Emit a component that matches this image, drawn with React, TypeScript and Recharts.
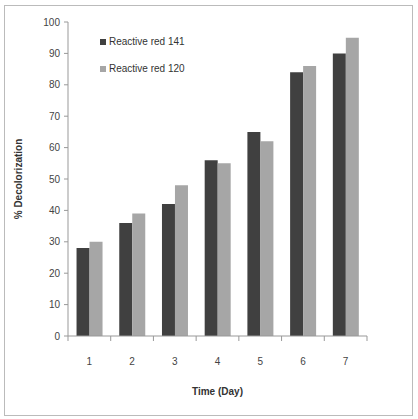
import { BarChart, Bar, XAxis, YAxis, Legend } from 'recharts';

const days = ['1', '2', '3', '4', '5', '6', '7'];
const red141 = [28, 36, 42, 56, 65, 84, 90];
const red120 = [30, 39, 48, 55, 62, 86, 95];
const seriesNames = ['Reactive red 141', 'Reactive red 120'];
const yTicks = [0, 10, 20, 30, 40, 50, 60, 70, 80, 90, 100];

const data = days.map((d, i) => ({ day: d, r141: red141[i], r120: red120[i] }));

const FONT = '"Liberation Sans", Arial, sans-serif';

// Excel style: tick marks sit between the categories
function DayTick(props: any) {
  const { x, y, payload, width, visibleTicksCount, index } = props;
  const step = width / visibleTicksCount;
  return (
    <g>
      <line x1={x - step / 2} x2={x - step / 2} y1={y} y2={y + 5} stroke="#999" />
      {index === visibleTicksCount - 1 && (
        <line x1={x + step / 2} x2={x + step / 2} y1={y} y2={y + 5} stroke="#999" />
      )}
      <text x={x} y={y + 29} textAnchor="middle" fontSize={10} fill="#444" fontFamily={FONT}>
        {payload.value}
      </text>
    </g>
  );
}

function LegendBox(props: any) {
  const items = [...(props.payload || [])].sort(
    (a: any, b: any) => seriesNames.indexOf(a.value) - seriesNames.indexOf(b.value)
  );
  return (
    <div style={{ fontFamily: FONT, fontSize: 10, color: '#333' }}>
      {items.map((p: any) => (
        <div key={p.value} style={{ display: 'flex', alignItems: 'center', height: 27 }}>
          <span style={{ width: 6, height: 6, background: p.color, marginRight: 3 }} />
          {p.value}
        </div>
      ))}
    </div>
  );
}

export default function App() {
  return (
    <div style={{ position: 'absolute', left: 4, top: 5, width: 407, height: 409, border: '1px solid #bbb', background: '#fff' }}>
      <BarChart
        width={407}
        height={409}
        data={data}
        margin={{ top: 16, right: 45, left: 0, bottom: 0 }}
        barCategoryGap="20%"
        barGap={0}
      >
        <XAxis
          dataKey="day"
          height={79}
          tickSize={0}
          tickMargin={0}
          tickLine={false}
          stroke="#999"
          tick={<DayTick />}
          interval={0}
          label={{ value: 'Time (Day)', position: 'insideBottom', offset: 20, fontSize: 10, fontWeight: 'bold', fill: '#333', fontFamily: FONT }}
        />
        <YAxis
          width={63}
          domain={[0, 100]}
          ticks={yTicks}
          interval={0}
          tickSize={4}
          tickMargin={4}
          stroke="#999"
          tick={{ fontSize: 10, fill: '#444', fontFamily: FONT }}
          label={{ value: '% Decolorization', angle: -90, position: 'insideLeft', offset: 13, fontSize: 10, fontWeight: 'bold', fill: '#333', fontFamily: FONT, style: { textAnchor: 'middle' } }}
        />
        <Legend
          layout="horizontal"
          verticalAlign="middle"
          align="center"
          content={<LegendBox />}
          wrapperStyle={{ top: 22, left: 95, width: 'auto' }}
        />
        <Bar dataKey="r141" name={seriesNames[0]} fill="#404040" isAnimationActive={false} />
        <Bar dataKey="r120" name={seriesNames[1]} fill="#a6a6a6" isAnimationActive={false} />
      </BarChart>
    </div>
  );
}
